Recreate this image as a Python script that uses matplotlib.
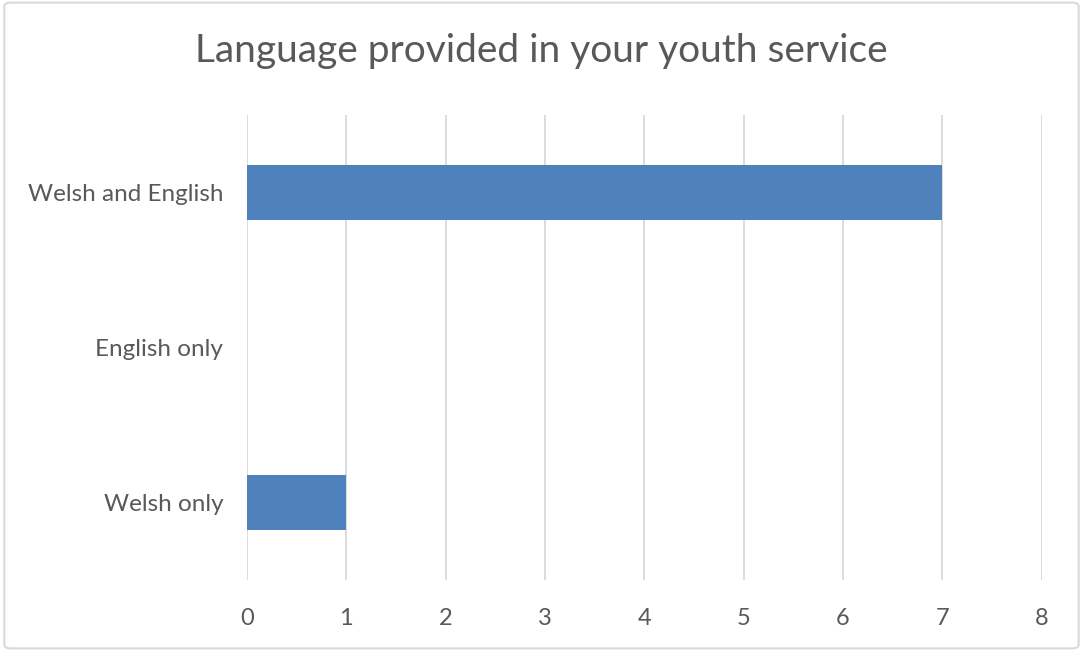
import matplotlib.pyplot as plt
from matplotlib.patches import FancyBboxPatch

# data
categorias = ['Welsh only', 'English only', 'Welsh and English']
valores = [1, 0, 7]
ticks_x = [0, 1, 2, 3, 4, 5, 6, 7, 8]

plt.rcParams['font.family'] = ['Lato', 'DejaVu Sans']

fig = plt.figure(figsize=(10.83, 6.51), dpi=100)
ax = fig.add_axes([0.228, 0.109, 0.734, 0.714])

# borda do gráfico
borda = FancyBboxPatch((0.004, 0.004), 0.992, 0.992, boxstyle='round,pad=0,rounding_size=0.006',
                       transform=fig.transFigure, facecolor='none', edgecolor='#D9D9D9', linewidth=1.5)
fig.patches.append(borda)

ax.barh(range(len(categorias)), valores, height=0.355, color='#4F81BD', zorder=3)

ax.set_xlim(0, 8)
ax.set_ylim(-0.5, 2.5)
ax.set_xticks(ticks_x)
ax.set_yticks(range(len(categorias)))
ax.set_yticklabels(categorias)
ax.grid(axis='x', color='#D9D9D9', linewidth=1.3, zorder=0)
for lado in ax.spines.values():
    lado.set_visible(False)
ax.tick_params(axis='both', length=0, labelsize=17, labelcolor='#595959')
ax.tick_params(axis='x', pad=20)
ax.tick_params(axis='y', labelsize=17.5, pad=17)

fig.text(0.5, 0.921, 'Language provided in your youth service', ha='center', va='center',
         fontsize=28, color='#595959')

fig.savefig('out.png', dpi=100)
